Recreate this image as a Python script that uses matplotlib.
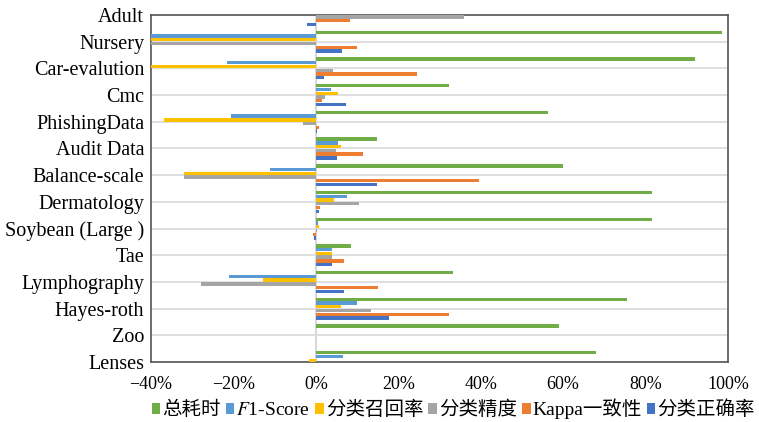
import numpy as np
import matplotlib
matplotlib.use('Agg')
import matplotlib.pyplot as plt
from matplotlib.ticker import FuncFormatter

plt.rcParams['font.family'] = ['Liberation Serif', 'Noto Sans CJK SC']
plt.rcParams['mathtext.fontset'] = 'stix'

# ---------------- data (percent) ----------------
datasets = ['Lenses', 'Zoo', 'Hayes-roth', 'Lymphography', 'Tae',
            'Soybean (Large )', 'Dermatology', 'Balance-scale', 'Audit Data',
            'PhishingData', 'Cmc', 'Car-evalution', 'Nursery', 'Adult']

series_names = ['总耗时', '$F$1-Score', '分类召回率', '分类精度', 'Kappa一致性', '分类正确率']
series_colors = ['#70AD47', '#5B9BD5', '#FFC000', '#A5A5A5', '#ED7D31', '#4472C4']

total_time = [67.9, 59.0, 75.6, 33.4, 8.5, 81.5, 81.7, 59.9, 14.9, 56.4, 32.4, 91.9, 98.5, 0.0]
f1_score   = [6.5, 0.0, 10.1, -21.1, 4.0, 0.4, 7.5, -11.2, 5.3, -20.6, 3.6, -21.5, -40.0, 0.0]
recall     = [-1.7, 0.0, 6.1, -12.8, 4.0, 0.8, 4.5, -32.1, 6.0, -36.8, 5.3, -40.0, -40.0, 0.0]
precision  = [0.0, 0.0, 13.5, -27.8, 4.0, 0.2, 10.4, -32.1, 4.9, -3.1, 2.2, 4.1, -40.0, 35.9]
kappa      = [0.0, 0.0, 32.4, 15.1, 6.8, -0.7, 1.1, 39.6, 11.5, 0.8, 1.5, 24.6, 10.0, 8.2]
accuracy   = [0.0, 0.0, 17.7, 6.8, 4.0, -0.5, 0.8, 14.9, 5.2, 0.3, 7.2, 1.9, 6.3, -2.1]

series_values = [total_time, f1_score, recall, precision, kappa, accuracy]

# ---------------- plot ----------------
fig = plt.figure(figsize=(7.59, 4.22), dpi=100)
ax = fig.add_axes([0.199, 0.142, 0.760, 0.8225])

y = np.arange(len(datasets))
h = 0.14
for i, (name, vals, col) in enumerate(zip(series_names, series_values, series_colors)):
    ax.barh(y + (2.5 - i) * h, vals, height=h * 0.9, color=col, label=name, zorder=3)

ax.set_ylim(0, len(datasets) - 1)
ax.set_xlim(-40, 100)
ax.set_yticks(y)
ax.set_yticklabels(datasets, fontsize=14.5)
ax.set_xticks(np.arange(-40, 101, 20))
ax.xaxis.set_major_formatter(FuncFormatter(lambda v, p: f'{v:.0f}%'.replace('-', '\u2212')))
ax.tick_params(axis='x', labelsize=13, length=0, pad=10)
ax.tick_params(axis='y', length=0, pad=5)

ax.grid(axis='y', color='#d9d9d9', linewidth=1.2, zorder=0)
ax.axvline(0, color='#d9d9d9', linewidth=1.5, zorder=1)
for s in ax.spines.values():
    s.set_color('#555555')
    s.set_linewidth(1.2)

ax.legend(loc='center', bbox_to_anchor=(0.524, -0.135), ncol=6, frameon=False,
          fontsize=14, handlelength=0.45, handleheight=0.45, handletextpad=0.1,
          columnspacing=0.25, borderaxespad=0)

fig.savefig('out.png', dpi=100)
